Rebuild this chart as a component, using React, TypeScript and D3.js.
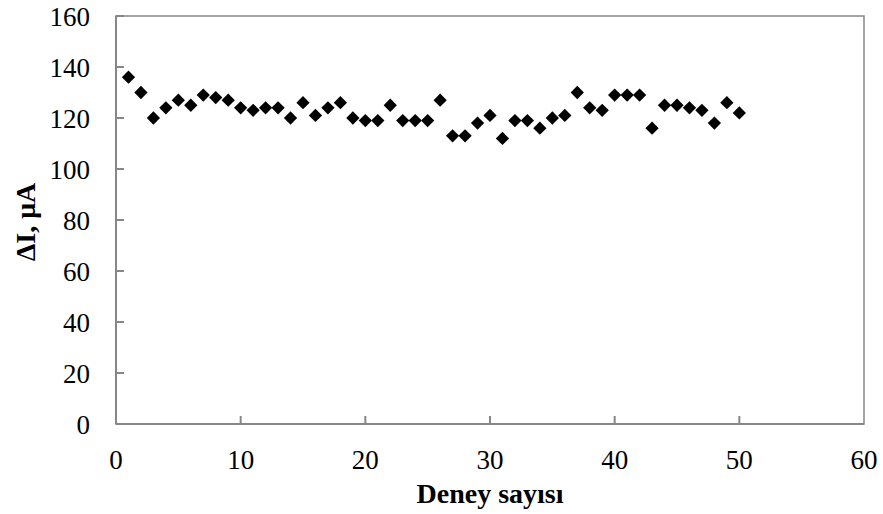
import React from "react";
import * as d3 from "d3";

const xValues: number[] = Array.from({ length: 50 }, (_, i) => i + 1);
const yValues: number[] = [
  136, 130, 120, 124, 127, 125, 129, 128, 127, 124,
  123, 124, 124, 120, 126, 121, 124, 126, 120, 119,
  119, 125, 119, 119, 119, 127, 113, 113, 118, 121,
  112, 119, 119, 116, 120, 121, 130, 124, 123, 129,
  129, 129, 116, 125, 125, 124, 123, 118, 126, 122,
];
const xTicks: number[] = [0, 10, 20, 30, 40, 50, 60];
const yTicks: number[] = [0, 20, 40, 60, 80, 100, 120, 140, 160];
const xTitle = "Deney sayısı";
const yTitle = "ΔI, μA";

const W = 883;
const H = 514;
const left = 116;
const right = 864;
const top = 16;
const bottom = 424;
const font = "'Liberation Serif', 'Times New Roman', Times, serif";
const axisColor = "#868686";

export default function App() {
  const x = d3.scaleLinear().domain([0, 60]).range([left, right]);
  const y = d3.scaleLinear().domain([0, 160]).range([bottom, top]);
  const sym = d3.symbol().type(d3.symbolSquare).size(88)() as string;
  return (
    <svg width={W} height={H} fontFamily={font}
      style={{ position: "absolute", left: 0, top: 0, display: "block", background: "#fff", fontFamily: font }}>
      <rect x={left} y={top} width={right - left} height={bottom - top}
        fill="none" stroke={axisColor} strokeWidth={1.5} />
      <line x1={left} x2={left} y1={top} y2={bottom} stroke={axisColor} strokeWidth={2} />
      <line x1={left} x2={right} y1={bottom} y2={bottom} stroke={axisColor} strokeWidth={2} />
      {yTicks.map(d => (
        <line key={"yt" + d} x1={left} x2={left + 8} y1={y(d)} y2={y(d)} stroke={axisColor} strokeWidth={2} />
      ))}
      {yTicks.map(d => (
        <text key={"yl" + d} x={left - 26} y={y(d) + 9.5} textAnchor="end" fontSize={27}>{String(d)}</text>
      ))}
      {xTicks.slice(1, -1).map(d => (
        <line key={"xt" + d} x1={x(d)} x2={x(d)} y1={bottom} y2={bottom - 8} stroke={axisColor} strokeWidth={2} />
      ))}
      {xTicks.map(d => (
        <text key={"xl" + d} x={x(d)} y={bottom + 45} textAnchor="middle" fontSize={27}>{String(d)}</text>
      ))}
      <text x={490} y={503} textAnchor="middle" fontSize={28} fontWeight="bold">{xTitle}</text>
      <text transform="translate(35,222) rotate(-90)" textAnchor="middle" fontSize={28} fontWeight="bold">{yTitle}</text>
      {xValues.map((d, i) => (
        <path key={i} d={sym} fill="#000"
          transform={`translate(${x(d)},${y(yValues[i])}) rotate(45)`} />
      ))}
    </svg>
  );
}
